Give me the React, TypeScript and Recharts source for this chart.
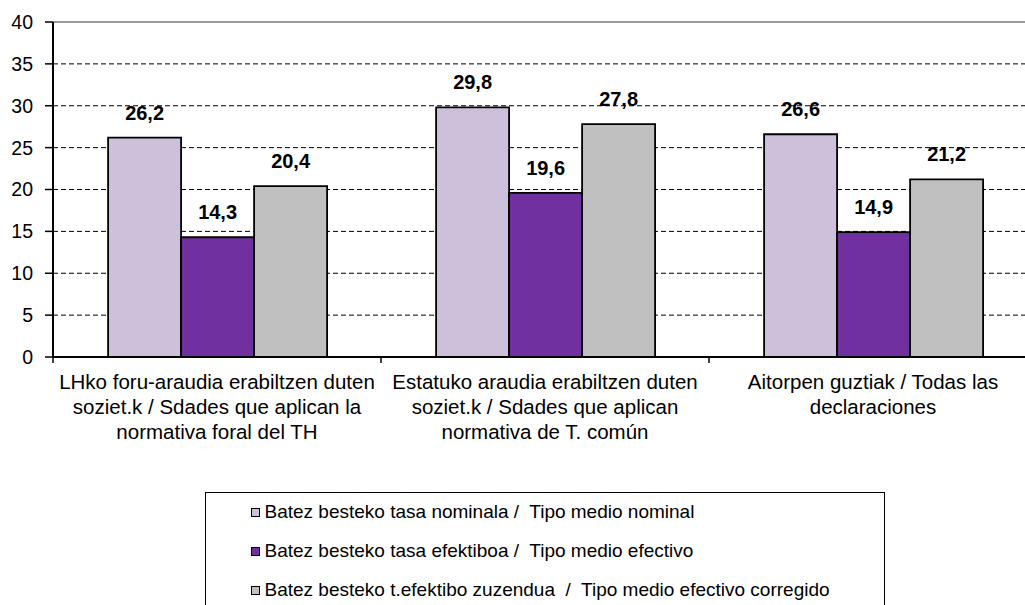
import * as React from 'react';
import {
  BarChart, Bar, XAxis, YAxis, CartesianGrid, Legend, LabelList, ReferenceLine
} from 'recharts';

// categories: each line of the axis label split on \n
const categories = [
  'LHko foru-araudia erabiltzen duten\nsoziet.k / Sdades que aplican la\nnormativa foral del TH',
  'Estatuko araudia erabiltzen duten\nsoziet.k / Sdades que aplican\nnormativa de T. común',
  'Aitorpen guztiak / Todas las\ndeclaraciones',
];

const nominal = [26.2, 29.8, 26.6];
const efectivo = [14.3, 19.6, 14.9];
const corregido = [20.4, 27.8, 21.2];

const seriesNames = [
  'Batez besteko tasa nominala /  Tipo medio nominal',
  'Batez besteko tasa efektiboa /  Tipo medio efectivo',
  'Batez besteko t.efektibo zuzendua  /  Tipo medio efectivo corregido',
];

const yTicks = [0, 5, 10, 15, 20, 25, 30, 35, 40];

const COLORS = ['#CCC0DA', '#7030A0', '#C0C0C0'];
const FONT = '"Liberation Sans", Arial, sans-serif';

const data = categories.map((name, i) => ({
  name,
  nominal: nominal[i],
  efectivo: efectivo[i],
  corregido: corregido[i],
}));

const fmt = (v: any) => String(v).replace('.', ',');

const CategoryTick = (props: any) => {
  const { x, y, payload, index } = props;
  const half = payload && payload.offset ? payload.offset : 164;
  const lines = String(payload.value).split('\n');
  return (
    <g>
      <line x1={x - half} x2={x - half} y1={y} y2={y + 6} stroke="#000" strokeWidth={1.5} />
      {index === categories.length - 1 && (
        <line x1={x + half} x2={x + half} y1={y} y2={y + 6} stroke="#000" strokeWidth={1.5} />
      )}
      <text textAnchor="middle" fontFamily={FONT} fontSize={20.5} fill="#000">
        {lines.map((l, i) => (
          <tspan key={i} x={x} y={y + 32 + i * 25}>{l}</tspan>
        ))}
      </text>
    </g>
  );
};

const LegendBox = (props: any) => {
  // keep the series order, not the alphabetical one
  const items = [...(props.payload || [])].sort(
    (a: any, b: any) => seriesNames.indexOf(a.value) - seriesNames.indexOf(b.value)
  );
  return (
    <div style={{
      border: '1.5px solid #000', height: 200, boxSizing: 'border-box',
      paddingTop: 9, paddingLeft: 44.5, fontFamily: FONT, fontSize: 19, color: '#000',
    }}>
      {items.map((p: any, i: number) => (
        <div key={i} style={{ display: 'flex', alignItems: 'center', height: 20, marginBottom: 19 }}>
          <span style={{
            display: 'inline-block', width: 9, height: 9, boxSizing: 'border-box',
            background: p.color, border: '1px solid #000', marginRight: 5,
          }} />
          <span style={{ whiteSpace: 'pre' }}>{p.value}</span>
        </div>
      ))}
    </div>
  );
};

const App: React.FunctionComponent = () => {
  return (
    <div style={{ position: 'fixed', left: 0, top: 0, width: 1025, height: 605, overflow: 'hidden', background: '#fff' }}>
      <BarChart
        width={1060}
        height={640}
        data={data}
        margin={{ top: 22, right: 23, left: 0, bottom: 0 }}
        barGap={0}
        barCategoryGap="16.8%"
      >
        <CartesianGrid vertical={false} stroke="#000" strokeDasharray="5 3" />
        <ReferenceLine y={40} stroke="#999" strokeWidth={2} />
        <XAxis
          dataKey="name"
          height={283}
          tickSize={0}
          tickMargin={0}
          tickLine={false}
          interval={0}
          axisLine={{ stroke: '#000', strokeWidth: 2 }}
          tick={<CategoryTick />}
        />
        <YAxis
          width={53}
          domain={[0, 40]}
          ticks={yTicks}
          interval={0}
          tickSize={8}
          tickMargin={12}
          axisLine={{ stroke: '#000', strokeWidth: 2 }}
          tickLine={{ stroke: '#000', strokeWidth: 1.5 }}
          tick={{ fill: '#000', fontSize: 19.5, fontFamily: FONT }}
        />
        <Legend
          layout="horizontal"
          verticalAlign="middle"
          align="center"
          wrapperStyle={{ left: 205, top: 492, width: 680 }}
          content={<LegendBox />}
        />
        <Bar dataKey="nominal" name={seriesNames[0]} fill={COLORS[0]} stroke="#000" strokeWidth={1.8} isAnimationActive={false}>
          <LabelList dataKey="nominal" position="top" offset={18} formatter={fmt}
            style={{ fontFamily: FONT, fontSize: 20, fontWeight: 'bold', fill: '#000' }} />
        </Bar>
        <Bar dataKey="efectivo" name={seriesNames[1]} fill={COLORS[1]} stroke="#000" strokeWidth={1.8} isAnimationActive={false}>
          <LabelList dataKey="efectivo" position="top" offset={18} formatter={fmt}
            style={{ fontFamily: FONT, fontSize: 20, fontWeight: 'bold', fill: '#000' }} />
        </Bar>
        <Bar dataKey="corregido" name={seriesNames[2]} fill={COLORS[2]} stroke="#000" strokeWidth={1.8} isAnimationActive={false}>
          <LabelList dataKey="corregido" position="top" offset={18} formatter={fmt}
            style={{ fontFamily: FONT, fontSize: 20, fontWeight: 'bold', fill: '#000' }} />
        </Bar>
      </BarChart>
    </div>
  );
};

export default App;
